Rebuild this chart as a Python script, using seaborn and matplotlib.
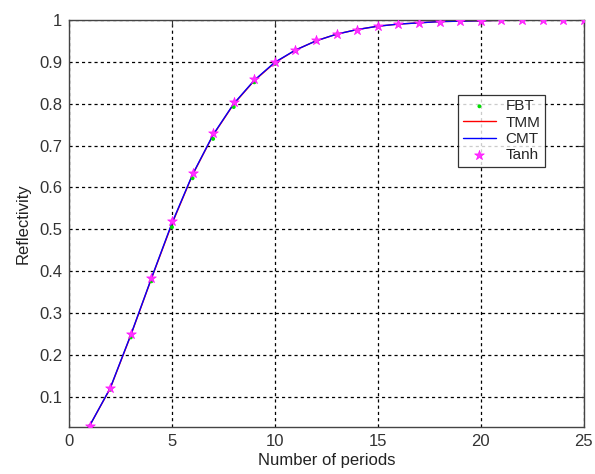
import numpy as np
import pandas as pd
import matplotlib
matplotlib.use("Agg")
import matplotlib.pyplot as plt
import seaborn as sns

# periodos e refletividade
periods = [1, 2, 3, 4, 5, 6, 7, 8, 9, 10, 11, 12, 13, 14, 15, 16, 17, 18, 19, 20, 21, 22, 23, 24, 25]
tanh_r = [0.031, 0.122, 0.250, 0.385, 0.520, 0.635, 0.730, 0.803, 0.858, 0.900, 0.929, 0.951,
          0.966, 0.977, 0.985, 0.990, 0.993, 0.996, 0.997, 0.998, 0.999, 0.999, 1.0, 1.0, 1.0]
fbt_r = [0.030, 0.117, 0.242, 0.376, 0.505, 0.622, 0.716, 0.792, 0.851, 0.895, 0.926, 0.949,
         0.965, 0.976, 0.984, 0.989, 0.993, 0.995, 0.997, 0.998, 0.999, 0.999, 1.0, 1.0, 1.0]
tmm_r = [0.031, 0.120, 0.247, 0.382, 0.513, 0.630, 0.725, 0.799, 0.855, 0.898, 0.928, 0.950,
         0.966, 0.977, 0.985, 0.990, 0.993, 0.996, 0.997, 0.998, 0.999, 0.999, 1.0, 1.0, 1.0]
cmt_r = [0.031, 0.121, 0.248, 0.383, 0.515, 0.631, 0.726, 0.800, 0.856, 0.899, 0.928, 0.950,
         0.966, 0.977, 0.985, 0.990, 0.993, 0.996, 0.997, 0.998, 0.999, 0.999, 1.0, 1.0, 1.0]

df = pd.DataFrame({'N': periods, 'FBT': fbt_r, 'TMM': tmm_r, 'CMT': cmt_r, 'Tanh': tanh_r})

sns.set_style("white")
plt.rcParams['font.family'] = ['Liberation Sans', 'DejaVu Sans']

fig = plt.figure(figsize=(5.95, 4.74), dpi=100)
ax = fig.add_axes([0.116, 0.099, 0.865, 0.859])

sns.scatterplot(data=df, x='N', y='FBT', ax=ax, color='#00dd00', marker='o', s=8,
                edgecolor='none', label='FBT', zorder=3)
sns.lineplot(data=df, x='N', y='TMM', ax=ax, color='red', linewidth=1.0, label='TMM', zorder=2)
sns.lineplot(data=df, x='N', y='CMT', ax=ax, color='blue', linewidth=1.0, label='CMT', zorder=2.5)
sns.scatterplot(data=df, x='N', y='Tanh', ax=ax, color='#ff33ff', marker='*', s=55,
                edgecolor='#ff00ff', linewidth=0.4, label='Tanh', zorder=4)

ax.set_xlim(0, 25)
ax.set_ylim(0.028, 1)
ax.set_xticks([0, 5, 10, 15, 20, 25])
ax.set_yticks([0.1, 0.2, 0.3, 0.4, 0.5, 0.6, 0.7, 0.8, 0.9, 1])
ax.set_yticklabels(['0.1', '0.2', '0.3', '0.4', '0.5', '0.6', '0.7', '0.8', '0.9', '1'])
ax.grid(True, color='black', linestyle=(0, (2.5, 2.5)), linewidth=0.9)
ax.tick_params(direction='in', length=4, labelsize=12, colors='#333333', width=0.8,
               top=True, right=True, pad=5)
for s in ax.spines.values():
    s.set_color('#444444')
    s.set_linewidth(1.0)

ax.set_xlabel('Number of periods', fontsize=12, color='#222222', labelpad=3)
ax.set_ylabel('Reflectivity', fontsize=12, color='#222222', labelpad=6)

leg = ax.legend(loc='upper left', bbox_to_anchor=(0.741, 0.835), fontsize=11,
                frameon=True, fancybox=False, edgecolor='black', borderpad=0.3,
                labelspacing=0.15, handlelength=2.2, handletextpad=0.6)
leg.get_frame().set_linewidth(0.9)

fig.savefig('out.png', dpi=100)
